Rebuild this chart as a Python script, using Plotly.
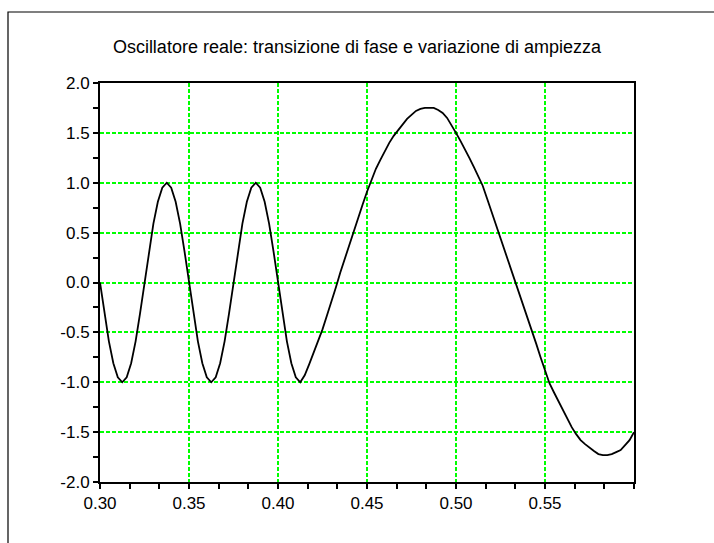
import plotly.graph_objects as go

# Sampled oscillator signal: time (s) and displacement
t = [
    0.3000, 0.3025, 0.3050, 0.3075, 0.3100, 0.3125, 0.3150, 0.3175, 0.3200, 0.3225,
    0.3250, 0.3275, 0.3300, 0.3325, 0.3350, 0.3375, 0.3400, 0.3425, 0.3450, 0.3475,
    0.3500, 0.3525, 0.3550, 0.3575, 0.3600, 0.3625, 0.3650, 0.3675, 0.3700, 0.3725,
    0.3750, 0.3775, 0.3800, 0.3825, 0.3850, 0.3875, 0.3900, 0.3925, 0.3950, 0.3975,
    0.4000, 0.4025, 0.4050, 0.4075, 0.4100, 0.4125, 0.4150, 0.4175, 0.4200, 0.4225,
    0.4250, 0.4275, 0.4300, 0.4325, 0.4350, 0.4375, 0.4400, 0.4425, 0.4450, 0.4475,
    0.4500, 0.4525, 0.4550, 0.4575, 0.4600, 0.4625, 0.4650, 0.4675, 0.4700, 0.4725,
    0.4750, 0.4775, 0.4800, 0.4825, 0.4850, 0.4875, 0.4900, 0.4925, 0.4950, 0.4975,
    0.5000, 0.5025, 0.5050, 0.5075, 0.5100, 0.5125, 0.5150, 0.5175, 0.5200, 0.5225,
    0.5250, 0.5275, 0.5300, 0.5325, 0.5350, 0.5375, 0.5400, 0.5425, 0.5450, 0.5475,
    0.5500, 0.5525, 0.5550, 0.5575, 0.5600, 0.5625, 0.5650, 0.5675, 0.5700, 0.5725,
    0.5750, 0.5775, 0.5800, 0.5825, 0.5850, 0.5875, 0.5900, 0.5925, 0.5950, 0.5975,
    0.6000,
]
y = [
    0.00, -0.31, -0.59, -0.81, -0.95, -1.00, -0.95, -0.81, -0.59, -0.31,
    0.00, 0.31, 0.59, 0.81, 0.95, 1.00, 0.95, 0.81, 0.59, 0.31,
    0.00, -0.31, -0.59, -0.81, -0.95, -1.00, -0.95, -0.81, -0.59, -0.31,
    0.00, 0.31, 0.59, 0.81, 0.95, 1.00, 0.95, 0.81, 0.59, 0.31,
    0.00, -0.31, -0.59, -0.81, -0.95, -1.00, -0.93, -0.82, -0.71, -0.59,
    -0.47, -0.33, -0.20, -0.05, 0.10, 0.24, 0.38, 0.50, 0.64, 0.78,
    0.91, 1.03, 1.14, 1.23, 1.32, 1.40, 1.47, 1.53, 1.59, 1.64,
    1.68, 1.72, 1.74, 1.75, 1.75, 1.75, 1.73, 1.70, 1.65, 1.58,
    1.50, 1.42, 1.34, 1.25, 1.16, 1.07, 0.97, 0.84, 0.71, 0.58,
    0.44, 0.31, 0.17, 0.05, -0.07, -0.20, -0.33, -0.47, -0.61, -0.75,
    -0.89, -1.01, -1.10, -1.19, -1.28, -1.37, -1.45, -1.52, -1.58, -1.62,
    -1.66, -1.69, -1.72, -1.73, -1.73, -1.72, -1.70, -1.68, -1.63, -1.58,
    -1.50,
]

x_ticks = [0.30, 0.35, 0.40, 0.45, 0.50, 0.55]
x_labels = ["0.30", "0.35", "0.40", "0.45", "0.50", "0.55"]
y_ticks = [-2.0, -1.5, -1.0, -0.5, 0.0, 0.5, 1.0, 1.5, 2.0]
y_labels = ["-2.0", "-1.5", "-1.0", "-0.5", "0.0", "0.5", "1.0", "1.5", "2.0"]

title_text = "Oscillatore reale: transizione di fase e variazione di ampiezza"

FONT = "Liberation Sans, Arial, sans-serif"
GRID = "#00ff00"

fig = go.Figure()
fig.add_trace(go.Scatter(
    x=t, y=y, mode="lines",
    line=dict(color="black", width=1.8),
    hoverinfo="skip", showlegend=False,
))

fig.update_layout(
    width=714, height=543,
    margin=dict(l=100, r=80, t=83, b=61),
    paper_bgcolor="white", plot_bgcolor="white",
    font=dict(family=FONT, size=17, color="black"),
    title=dict(
        text=title_text, x=0.5, xref="container", xanchor="center",
        y=1 - 47 / 543, yref="container", yanchor="middle",
        font=dict(family=FONT, size=18, color="black"),
    ),
    showlegend=False,
)

fig.update_xaxes(
    range=[0.30, 0.60],
    tickmode="array", tickvals=x_ticks, ticktext=x_labels,
    ticks="outside", ticklen=5, tickwidth=1.5, tickcolor="black",
    showline=True, linewidth=2, linecolor="black", mirror=True,
    showgrid=True, gridcolor=GRID, gridwidth=1.5, griddash="4px,2px",
    zeroline=False,
    minor=dict(tickmode="linear", tick0=0.30, dtick=0.05 / 3,
               ticks="outside", ticklen=5, tickwidth=1.5, tickcolor="black",
               showgrid=False),
)
fig.update_yaxes(
    range=[-2.0, 2.0],
    tickmode="array", tickvals=y_ticks, ticktext=y_labels,
    ticks="outside", ticklen=5, tickwidth=1.5, tickcolor="black",
    showline=True, linewidth=2, linecolor="black", mirror=True,
    showgrid=True, gridcolor=GRID, gridwidth=1.5, griddash="4px,2px",
    zeroline=False,
    minor=dict(tickmode="linear", tick0=-2.0, dtick=0.25,
               ticks="outside", ticklen=5, tickwidth=1.5, tickcolor="black",
               showgrid=False),
)

# Outer frame of the graphics window
fig.add_shape(
    type="rect", xref="paper", yref="paper",
    x0=(8 - 100) / 534, x1=1.5, y0=-0.5, y1=(482 - 12) / 399,
    line=dict(color="black", width=1.2), fillcolor="rgba(0,0,0,0)",
    layer="above",
)

fig.write_html("out.html")
